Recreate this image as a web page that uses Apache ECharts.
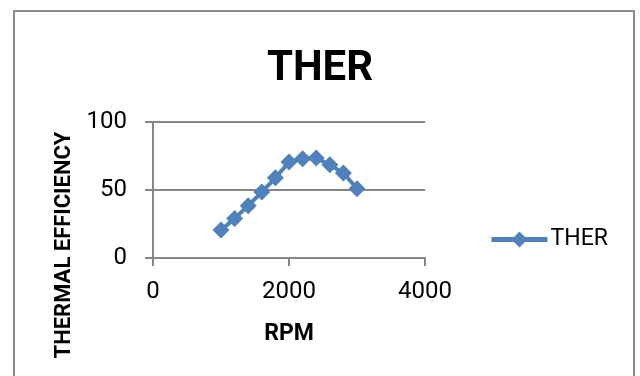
<!DOCTYPE html>
<html>
<head>
<meta charset="utf-8">
<style>
html,body{margin:0;padding:0;background:#fff;}
#chart{width:640px;height:376px;}
</style>
<script src="https://cdn.jsdelivr.net/npm/echarts@6/dist/echarts.min.js"></script>
</head>
<body>
<div id="chart"></div>
<script>
const chartTitle = 'THER';
const seriesName = 'THER';
const xAxisName = 'RPM';
const yAxisName = 'THERMAL EFFICIENCY';
const rpm = [1000, 1200, 1400, 1600, 1800, 2000, 2200, 2400, 2600, 2800, 3000];
const ther = [20.5, 29, 38.5, 48.5, 59, 70.5, 73, 73.5, 68.5, 62.5, 51];
const xTicks = [0, 2000, 4000];
const yTicks = [0, 50, 100];

const FONT = "Roboto, 'Liberation Sans', sans-serif";
const AXIS_GRAY = '#868686';
const BLUE = '#4F81BD';

const chart = echarts.init(document.getElementById('chart'), null, {renderer: 'canvas'});
chart.setOption({
  animation: false,
  backgroundColor: '#fff',
  title: {
    text: chartTitle,
    left: 'center',
    top: 43,
    textStyle: {fontFamily: FONT, fontWeight: 'bold', fontSize: 42, color: '#000'}
  },
  grid: {left: 153, right: 215, top: 122, bottom: 118, containLabel: false},
  legend: {
    data: [seriesName],
    left: 484,
    top: 223,
    itemWidth: 56,
    itemHeight: 20,
    itemGap: 4,
    lineStyle: {width: 5, color: BLUE},
    textStyle: {fontFamily: FONT, fontSize: 23, color: '#000', padding: [0, 0, 0, -2]}
  },
  xAxis: {
    type: 'value',
    min: xTicks[0],
    max: xTicks[xTicks.length - 1],
    interval: xTicks[1] - xTicks[0],
    name: xAxisName,
    nameLocation: 'middle',
    nameGap: 65,
    nameTextStyle: {fontFamily: FONT, fontWeight: 'bold', fontSize: 23, color: '#000'},
    axisLine: {show: true, onZero: false, lineStyle: {color: AXIS_GRAY, width: 2}},
    axisTick: {show: true, inside: false, length: 8, lineStyle: {color: AXIS_GRAY, width: 2}},
    axisLabel: {margin: 22, fontFamily: FONT, fontSize: 24, color: '#000', formatter: v => String(v)},
    splitLine: {show: false}
  },
  yAxis: {
    type: 'value',
    min: yTicks[0],
    max: yTicks[yTicks.length - 1],
    interval: yTicks[1] - yTicks[0],
    axisLine: {show: true, onZero: false, lineStyle: {color: AXIS_GRAY, width: 2}},
    axisTick: {show: true, inside: false, length: 8, lineStyle: {color: AXIS_GRAY, width: 2}},
    axisLabel: {margin: 26, fontFamily: FONT, fontSize: 24, color: '#000', formatter: v => String(v)},
    splitLine: {show: true, lineStyle: {color: AXIS_GRAY, width: 2}}
  },
  series: [{
    name: seriesName,
    type: 'line',
    data: rpm.map((x, i) => [x, ther[i]]),
    symbol: 'diamond',
    symbolSize: 17,
    color: BLUE,
    lineStyle: {color: BLUE, width: 4},
    itemStyle: {color: BLUE}
  }],
  graphic: [
    {
      type: 'rect',
      shape: {x: 14, y: 11, width: 620, height: 420},
      style: {fill: 'none', stroke: '#8c8c8c', lineWidth: 2},
      silent: true,
      z: -1
    },
    {
      type: 'text',
      x: 64,
      y: 245,
      rotation: Math.PI / 2,
      style: {
        text: yAxisName,
        fontFamily: FONT,
        fontWeight: 'bold',
        fontSize: 22,
        fill: '#000',
        align: 'center',
        verticalAlign: 'middle'
      }
    }
  ]
});
</script>
</body>
</html>
